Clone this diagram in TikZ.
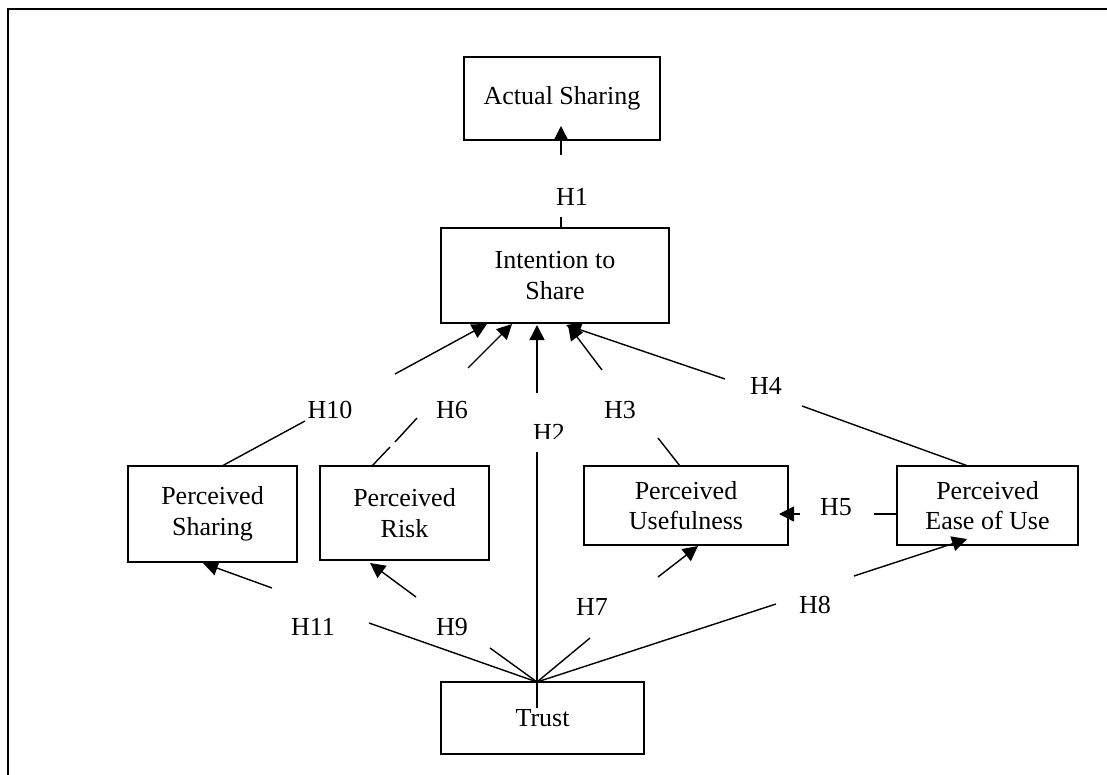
\documentclass[tikz,border=0pt]{standalone}
\usepackage{fontspec}
\setmainfont{Liberation Serif}
\usetikzlibrary{arrows.meta}
\begin{document}
\begin{tikzpicture}[x=1pt,y=-1pt,
  box/.style={draw, line width=1.4pt, align=center, inner sep=0pt, font=\fontsize{26}{30.5}\selectfont},
  conn/.style={line width=1.4pt},
  arr/.style={conn, -{Triangle[length=15pt,width=15pt]}},
  lbl/.style={inner sep=0pt, font=\fontsize{26}{30.5}\selectfont}]
\useasboundingbox (0,0) rectangle (1107,775);
\draw[line width=2pt] (8,775) -- (8,9) -- (1107,9);

% boxes
\node[box, minimum width=196pt, minimum height=83pt] (act) at (562,98.5) {Actual Sharing};
\node[box, minimum width=228pt, minimum height=95pt] (int) at (555,275.5) {Intention to\\Share};
\node[box, minimum width=169pt, minimum height=96pt] (ps) at (212.5,514) {Perceived\\Sharing};
\node[box, minimum width=169pt, minimum height=94pt] (pr) at (404.5,513) {Perceived\\Risk};
\node[box, minimum width=204pt, minimum height=79pt] (pu) at (686,505.5) {Perceived\\Usefulness};
\node[box, minimum width=181pt, minimum height=79pt] (pe) at (987.5,505.5) {Perceived\\Ease of Use};
\node[box, minimum width=203pt, minimum height=72pt] (tr) at (542.5,718) {Trust};

% connector points
\coordinate (s1) at (561,228);  \coordinate (a1) at (561,217);  \coordinate (b1) at (561,155);  \coordinate (t1) at (561,126);
\coordinate (s2) at (537,708);  \coordinate (a2) at (537,452);  \coordinate (b2) at (537,393);  \coordinate (t2) at (537,325);
\coordinate (s3) at (680,466);  \coordinate (a3) at (658,438);  \coordinate (b3) at (602,370);  \coordinate (t3) at (568,325);
\coordinate (s4) at (968,466);  \coordinate (a4) at (802,406);  \coordinate (b4) at (725,379);  \coordinate (t4) at (566,325);
\coordinate (s5) at (897,514);  \coordinate (a5) at (874,514);  \coordinate (b5) at (800,514);  \coordinate (t5) at (779,514);
\coordinate (s6) at (372,466);  \coordinate (m6) at (390,447);  \coordinate (n6) at (395,442);  \coordinate (a6) at (417,418);  \coordinate (b6) at (468,368);  \coordinate (t6) at (512,324);
\coordinate (s7) at (537,682);  \coordinate (a7) at (590,638);  \coordinate (b7) at (658,577);  \coordinate (t7) at (698,546);
\coordinate (s8) at (537,682);  \coordinate (a8) at (776,604);  \coordinate (b8) at (854,576);  \coordinate (t8) at (967,539);
\coordinate (s9) at (537,682);  \coordinate (a9) at (490,648);  \coordinate (b9) at (416,597);  \coordinate (t9) at (370,563);
\coordinate (s10) at (222,466); \coordinate (a10) at (305,421); \coordinate (b10) at (395,374); \coordinate (t10) at (487,324);
\coordinate (s11) at (537,682); \coordinate (a11) at (369,623); \coordinate (b11) at (272,588); \coordinate (t11) at (203,563);

% connectors
\draw[conn] (s1) -- (a1);  \draw[arr] (b1) -- (t1);
\draw[conn] (s2) -- (a2);  \draw[arr] (b2) -- (t2);
\draw[conn] (s3) -- (a3);  \draw[arr] (b3) -- (t3);
\draw[conn] (s4) -- (a4);  \draw[arr] (b4) -- (t4);
\draw[conn] (s5) -- (a5);  \draw[arr] (b5) -- (t5);
\draw[conn] (s6) -- (m6);  \draw[conn] (n6) -- (a6);  \draw[arr] (b6) -- (t6);
\draw[conn] (s7) -- (a7);  \draw[arr] (b7) -- (t7);
\draw[conn] (s8) -- (a8);  \draw[arr] (b8) -- (t8);
\draw[conn] (s9) -- (a9);  \draw[arr] (b9) -- (t9);
\draw[conn] (s10) -- (a10); \draw[arr] (b10) -- (t10);
\draw[conn] (s11) -- (a11); \draw[arr] (b11) -- (t11);

% labels
\node[lbl] (h1) at (572,197) {H1};
\begin{scope}
  \clip (520,415) rectangle (580,438);
  \node[lbl] (h2) at (549,433) {H2};
\end{scope}
\node[lbl] (h3) at (620,410) {H3};
\node[lbl] (h4) at (766,386) {H4};
\node[lbl] (h5) at (836,507) {H5};
\node[lbl] (h6) at (452,410) {H6};
\node[lbl] (h7) at (592,607) {H7};
\node[lbl] (h8) at (815,605) {H8};
\node[lbl] (h9) at (452,627) {H9};
\node[lbl] (h10) at (330,410) {H10};
\node[lbl] (h11) at (313,627) {H11};
\end{tikzpicture}
\end{document}
